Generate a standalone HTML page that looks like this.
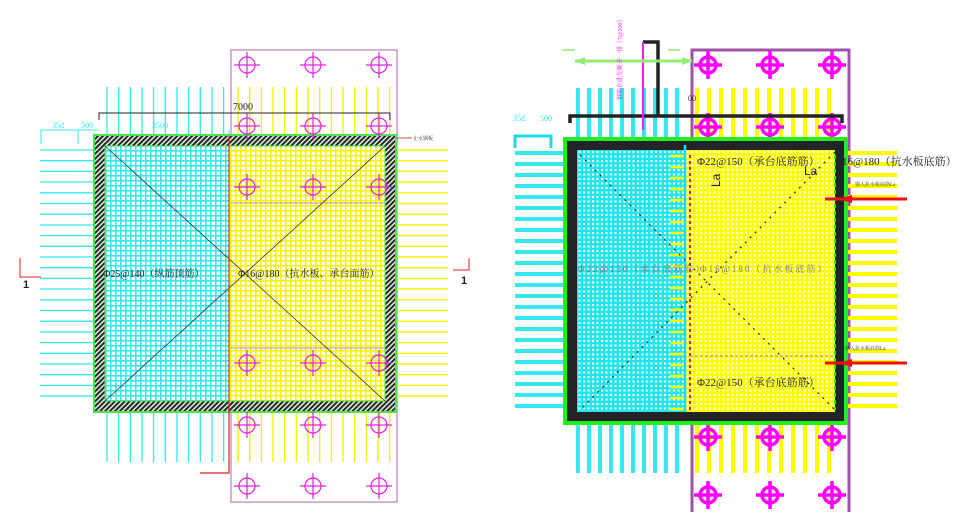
<!DOCTYPE html>
<html><head><meta charset="utf-8"><style>
html,body{margin:0;padding:0;background:#fff;}
svg{display:block;font-family:"Liberation Serif","Noto Serif CJK SC",serif;}
</style></head><body>
<svg width="979" height="512" viewBox="0 0 979 512" xmlns="http://www.w3.org/2000/svg">
<defs>
<pattern id="cg" width="4.5" height="4.5" patternUnits="userSpaceOnUse"><rect width="4.5" height="4.5" fill="#22e5ee"/><rect x="2.5" y="2.5" width="2" height="2" fill="#fff"/></pattern>
<pattern id="yg" width="4.5" height="4.5" patternUnits="userSpaceOnUse"><rect width="4.5" height="4.5" fill="#ffff00"/><rect x="2.5" y="2.5" width="2" height="2" fill="#fff"/></pattern>
<pattern id="cl" width="5" height="5" patternUnits="userSpaceOnUse"><rect width="5" height="5" fill="#fff"/><rect width="5" height="1.6" fill="#35e8ef"/><rect width="1.6" height="5" fill="#35e8ef"/></pattern>
<pattern id="yl" width="5" height="5" patternUnits="userSpaceOnUse"><rect width="5" height="5" fill="#fff"/><rect width="5" height="1.6" fill="#f4f400"/><rect width="1.6" height="5" fill="#f4f400"/></pattern>
<pattern id="hatch" width="3.5" height="3.5" patternUnits="userSpaceOnUse" patternTransform="rotate(45)"><rect width="3.5" height="3.5" fill="#d8efd8"/><rect width="2" height="3.5" fill="#2a2a2a"/></pattern>
<g id="pL"><circle r="8" fill="none" stroke="#e020e0" stroke-width="1.2"/><line x1="-13" y1="0" x2="13" y2="0" stroke="#e020e0" stroke-width="1.2"/><line x1="0" y1="-13" x2="0" y2="13" stroke="#e020e0" stroke-width="1.2"/></g>
<g id="pR"><circle r="8" fill="none" stroke="#ff00ff" stroke-width="3.5"/><line x1="-14" y1="0" x2="14" y2="0" stroke="#ff00ff" stroke-width="3.5"/><line x1="0" y1="-14" x2="0" y2="14" stroke="#ff00ff" stroke-width="3.5"/></g>
</defs>

<!-- ============ LEFT DRAWING ============ -->
<rect x="231" y="50" width="166" height="452" fill="none" stroke="#b060b8" stroke-width="1"/>
<g stroke="#35e8ef" stroke-width="1.3">
<path d="M107 87V462M118.6 87V462M130.3 87V462M142 87V462M153.6 87V462M165.3 87V462M177 87V462M188.6 87V462M200.3 87V462M212 87V462M223.6 87V462"/>
<path d="M40 150H93M40 160.7H93M40 171.4H93M40 182H93M40 192.8H93M40 203.5H93M40 214.2H93M40 225H93M40 235.6H93M40 246.3H93M40 257H93M40 267.7H93M40 278.4H93M40 289H93M40 299.8H93M40 310.5H93M40 321.2H93M40 332H93M40 342.6H93M40 353.3H93M40 364H93M40 374.7H93M40 385.4H93M40 396H93"/>
</g>
<g stroke="#f4f400" stroke-width="1.4">
<path d="M238 87V462M249.7 87V462M261.4 87V462M273 87V462M284.7 87V462M296.4 87V462M308 87V462M319.7 87V462M331.4 87V462M343 87V462M354.7 87V462M366.4 87V462M378 87V462M389.7 87V462"/>
<path d="M397 150H448M397 160.7H448M397 171.4H448M397 182H448M397 192.8H448M397 203.5H448M397 214.2H448M397 225H448M397 235.6H448M397 246.3H448M397 257H448M397 267.7H448M397 278.4H448M397 289H448M397 299.8H448M397 310.5H448M397 321.2H448M397 332H448M397 342.6H448M397 353.3H448M397 364H448M397 374.7H448M397 385.4H448M397 396H448"/>
</g>
<rect x="93" y="134" width="304" height="279" fill="#4fe04f"/>
<rect x="95" y="136" width="300" height="275" fill="url(#hatch)"/>
<rect x="105" y="146" width="124" height="255" fill="url(#cl)"/>
<rect x="229" y="146" width="156" height="255" fill="url(#yl)"/>
<rect x="105" y="146" width="280" height="255" fill="none" stroke="#4fe04f" stroke-width="1"/>
<g>
<use href="#pL" x="247" y="65"/><use href="#pL" x="313" y="65"/><use href="#pL" x="379" y="65"/>
<use href="#pL" x="247" y="126"/><use href="#pL" x="313" y="126"/><use href="#pL" x="379" y="126"/>
<use href="#pL" x="247" y="187"/><use href="#pL" x="313" y="187"/><use href="#pL" x="379" y="187"/>
<use href="#pL" x="247" y="363"/><use href="#pL" x="313" y="363"/><use href="#pL" x="379" y="363"/>
<use href="#pL" x="247" y="425"/><use href="#pL" x="313" y="425"/><use href="#pL" x="379" y="425"/>
<use href="#pL" x="247" y="486"/><use href="#pL" x="313" y="486"/><use href="#pL" x="379" y="486"/>
</g>
<line x1="231" y1="203" x2="385" y2="203" stroke="#b060b8" stroke-width="0.8"/>
<line x1="231" y1="348" x2="385" y2="348" stroke="#b060b8" stroke-width="0.8"/>
<line x1="105" y1="146" x2="385" y2="401" stroke="#222" stroke-width="0.7"/>
<line x1="385" y1="146" x2="105" y2="401" stroke="#222" stroke-width="0.7"/>
<path d="M229 134V473H200" fill="none" stroke="#e02020" stroke-width="1.2"/>
<path d="M99 120V113H390V120" fill="none" stroke="#222" stroke-width="1"/>
<text x="233" y="110" font-size="10" fill="#222">7000</text>
<path d="M41 144V130H99" fill="none" stroke="#35e8ef" stroke-width="1"/>
<path d="M78 144V130M229 130V136" fill="none" stroke="#35e8ef" stroke-width="1"/>
<text x="52" y="128" font-size="8" fill="#35e8ef">35d</text>
<text x="81" y="128" font-size="8" fill="#35e8ef">500</text>
<text x="152" y="128" font-size="8" fill="#35e8ef">3500</text>
<path d="M397 138H412" stroke="#c02020" stroke-width="0.8"/>
<text x="413" y="140" font-size="5" fill="#333">止水钢板</text>
<text x="103" y="277" font-size="10" fill="#222">Φ25@140（纵筋顶筋）</text>
<text x="238" y="277" font-size="10" fill="#222">Φ16@180（抗水板、承台面筋）</text>
<path d="M20 258V277H41" fill="none" stroke="#e02020" stroke-width="1"/>
<text x="23" y="288" font-size="11" font-family="Liberation Sans" fill="#222" font-weight="bold">1</text>
<path d="M469 258V270H453" fill="none" stroke="#e02020" stroke-width="1"/>
<text x="461" y="284" font-size="11" font-family="Liberation Sans" fill="#222" font-weight="bold">1</text>

<!-- ============ RIGHT DRAWING ============ -->
<rect x="692" y="50" width="157" height="470" fill="none" stroke="#a050a8" stroke-width="3"/>
<g stroke="#35e8ef" stroke-width="4">
<path d="M578 88V137M589 88V137M600 88V137M611 88V137M622 88V137M633 88V137M644 88V137M655 88V137M666 88V137M677 88V137"/>
<path d="M578 425V473M589 425V473M600 425V473M611 425V473M622 425V473M633 425V473M644 425V473M655 425V473M666 425V473M677 425V473"/>
<path d="M515 153H563M515 164H563M515 175H563M515 186H563M515 197H563M515 208H563M515 219H563M515 230H563M515 241H563M515 252H563M515 263H563M515 274H563M515 285H563M515 296H563M515 307H563M515 318H563M515 329H563M515 340H563M515 351H563M515 362H563M515 373H563M515 384H563M515 395H563M515 406H563"/>
</g>
<g stroke="#ffff00" stroke-width="4">
<path d="M697 88V137M709 88V137M721 88V137M733 88V137M745 88V137M757 88V137M769 88V137M781 88V137M793 88V137M805 88V137M817 88V137M829 88V137"/>
<path d="M697 425V473M709 425V473M721 425V473M733 425V473M745 425V473M757 425V473M769 425V473M781 425V473M793 425V473M805 425V473M817 425V473M829 425V473"/>
<path d="M848 153H897M848 164H897M848 175H897M848 186H897M848 197H897M848 208H897M848 219H897M848 230H897M848 241H897M848 252H897M848 263H897M848 274H897M848 285H897M848 296H897M848 307H897M848 318H897M848 329H897M848 340H897M848 351H897M848 362H897M848 373H897M848 384H897M848 395H897M848 406H897"/>
</g>
<g>
<use href="#pR" x="708" y="65"/><use href="#pR" x="770" y="65"/><use href="#pR" x="832" y="65"/>
<use href="#pR" x="708" y="495"/><use href="#pR" x="770" y="495"/><use href="#pR" x="832" y="495"/>
<use href="#pR" x="708" y="437"/><use href="#pR" x="770" y="437"/><use href="#pR" x="832" y="437"/>
<use href="#pR" x="708" y="127"/><use href="#pR" x="770" y="127"/><use href="#pR" x="832" y="127"/>
</g>
<rect x="563" y="137" width="285" height="288" fill="#22ee22"/>
<rect x="567" y="141" width="277" height="280" fill="#222428"/>
<rect x="577" y="150" width="108" height="262" fill="url(#cg)"/>
<rect x="685" y="150" width="150" height="262" fill="url(#yg)"/>
<g stroke="#ffff00" stroke-width="2.5"><path d="M670 156H684M670 167H684M670 178H684M670 189H684M670 200H684M670 211H684M670 222H684M670 233H684M670 244H684M670 255H684M670 266H684M670 277H684M670 288H684M670 299H684M670 310H684M670 321H684M670 332H684M670 343H684M670 354H684M670 365H684M670 376H684M670 387H684M670 398H684M670 409H684"/></g>
<line x1="685" y1="145" x2="685" y2="412" stroke="#22d8e8" stroke-width="2.5"/>
<line x1="690" y1="155" x2="690" y2="412" stroke="#e02020" stroke-width="2" stroke-dasharray="3,3"/>
<line x1="690" y1="197" x2="835" y2="197" stroke="#e8e8a0" stroke-width="1"/>
<line x1="690" y1="356" x2="835" y2="356" stroke="#c060c0" stroke-width="1" stroke-dasharray="3,2"/>
<g stroke="#222" stroke-width="1.2" stroke-dasharray="2,5">
<line x1="580" y1="155" x2="835" y2="410"/><line x1="835" y1="152" x2="580" y2="410"/>
</g>
<path d="M835 155V410" stroke="#22ee22" stroke-width="2" stroke-dasharray="4,3"/>
<path d="M570 123V116H842V123" fill="none" stroke="#222" stroke-width="3.5"/>
<path d="M643 42H658V116" fill="none" stroke="#222" stroke-width="3.5"/>
<path d="M643 42V130" stroke="#ee20ee" stroke-width="2"/>
<path d="M575 61H692" stroke="#90ee70" stroke-width="3"/>
<path d="M575 61l10-4v8zM692 61l-10-4v8z" fill="#90ee70"/>
<path d="M562 50H575M668 50H680" stroke="#90ee70" stroke-width="1.5"/>
<text x="622" y="100" font-size="6" fill="#ee20ee" transform="rotate(-90 622 100)">钢筋在此处断开一排（7@200）</text>
<text x="688" y="101" font-size="8" fill="#222">00</text>
<path d="M515 148V136H551V148" fill="none" stroke="#22d8e8" stroke-width="3"/>
<text x="513" y="121" font-size="8" fill="#35e8ef">35d</text>
<text x="540" y="121" font-size="8" fill="#35e8ef">500</text>
<text x="697" y="165" font-size="11" fill="#222">Φ22@150（承台底筋筋）</text>
<text x="842" y="165" font-size="11" fill="#222">16@180（抗水板底筋）</text>
<text x="804" y="175" font-size="12" font-family="Liberation Sans" fill="#222">La</text>
<text x="720" y="187" font-size="12" font-family="Liberation Sans" fill="#222" transform="rotate(-90 720 187)">La</text>
<text x="855" y="186" font-size="5" fill="#333">锚入抗水板底筋La</text>
<text x="845" y="350" font-size="5" fill="#333">锚入抗水板底筋La</text>
<text x="697" y="386" font-size="11" fill="#222">Φ22@150（承台底筋筋）</text>
<text x="578" y="272" font-size="9" fill="#777" letter-spacing="2">Φ22@150（承台底筋筋）</text>
<text x="700" y="272" font-size="9" fill="#777" letter-spacing="2">Φ16@180（抗水板底筋）</text>
<path d="M825 199H907" stroke="#ee1010" stroke-width="3"/>
<path d="M825 363H907" stroke="#ee1010" stroke-width="3"/>
<path d="M838 199l14-4v8zM838 363l14-4v8z" fill="#ee1010"/>
</svg>
</body></html>
